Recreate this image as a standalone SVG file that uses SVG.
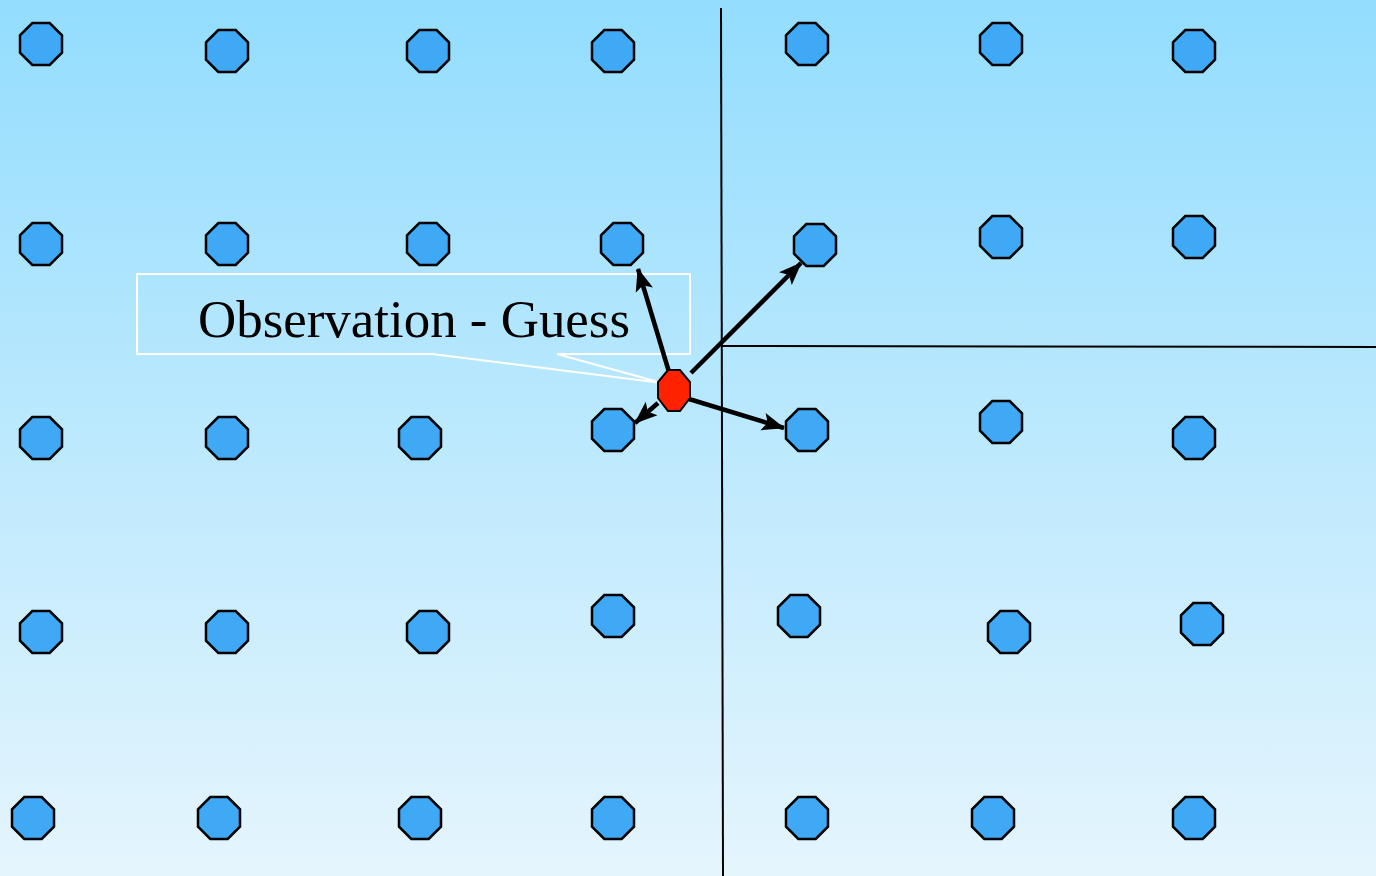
<svg xmlns="http://www.w3.org/2000/svg" xmlns:xlink="http://www.w3.org/1999/xlink" width="1376" height="876" viewBox="0 0 1376 876">
<defs>
<linearGradient id="bg" x1="0" y1="0" x2="0" y2="1">
<stop offset="0" stop-color="#93DDFE"/>
<stop offset="1" stop-color="#E5F5FD"/>
</linearGradient>
<polygon id="oct" points="-8.7,-21 8.7,-21 21,-8.7 21,8.7 8.7,21 -8.7,21 -21,8.7 -21,-8.7"/>
<marker id="ah" markerUnits="userSpaceOnUse" markerWidth="24" markerHeight="20" viewBox="0 0 24 20" refX="22" refY="10" orient="auto">
<path d="M0,1 L23,10 L0,19 L5,10 Z" fill="#000"/>
</marker>
</defs>
<style>
.n use{fill:#3FA9F5;stroke:#000;stroke-width:2.5}
.ln{stroke:#000;stroke-width:2;fill:none}
.ar{stroke:#000;stroke-width:4.5;fill:none;marker-end:url(#ah)}
.lbl{font-family:"Liberation Serif",serif;font-size:53px;fill:#000}
</style>
<rect x="0" y="0" width="1376" height="876" fill="url(#bg)"/>
<g id="grid-lines">
<line class="ln" x1="721" y1="8" x2="723" y2="876"/>
<line class="ln" x1="722" y1="346" x2="1376" y2="347"/>
</g>
<g id="callout">
<path d="M137,274 H690 V354 H557 L662,383 L432,354 H137 Z" fill="none" stroke="#fff" stroke-width="2"/>
<text class="lbl" x="414" y="337" text-anchor="middle" textLength="432" lengthAdjust="spacingAndGlyphs">Observation - Guess</text>
</g>
<g class="n">
<g id="n1-1"><use href="#oct" x="41" y="44"/></g>
<g id="n1-2"><use href="#oct" x="227" y="51"/></g>
<g id="n1-3"><use href="#oct" x="428" y="51"/></g>
<g id="n1-4"><use href="#oct" x="613" y="51"/></g>
<g id="n1-5"><use href="#oct" x="807" y="44"/></g>
<g id="n1-6"><use href="#oct" x="1001" y="44"/></g>
<g id="n1-7"><use href="#oct" x="1194" y="51"/></g>
<g id="n2-1"><use href="#oct" x="41" y="244"/></g>
<g id="n2-2"><use href="#oct" x="227" y="244"/></g>
<g id="n2-3"><use href="#oct" x="428" y="244"/></g>
<g id="n2-4"><use href="#oct" x="622" y="244"/></g>
<g id="n2-5"><use href="#oct" x="815" y="245"/></g>
<g id="n2-6"><use href="#oct" x="1001" y="237"/></g>
<g id="n2-7"><use href="#oct" x="1194" y="237"/></g>
<g id="n3-1"><use href="#oct" x="41" y="438"/></g>
<g id="n3-2"><use href="#oct" x="227" y="438"/></g>
<g id="n3-3"><use href="#oct" x="420" y="438"/></g>
<g id="n3-4"><use href="#oct" x="613" y="430"/></g>
<g id="n3-5"><use href="#oct" x="807" y="430"/></g>
<g id="n3-6"><use href="#oct" x="1001" y="422"/></g>
<g id="n3-7"><use href="#oct" x="1194" y="438"/></g>
<g id="n4-1"><use href="#oct" x="41" y="632"/></g>
<g id="n4-2"><use href="#oct" x="227" y="632"/></g>
<g id="n4-3"><use href="#oct" x="428" y="632"/></g>
<g id="n4-4"><use href="#oct" x="613" y="616"/></g>
<g id="n4-5"><use href="#oct" x="799" y="616"/></g>
<g id="n4-6"><use href="#oct" x="1009" y="632"/></g>
<g id="n4-7"><use href="#oct" x="1202" y="624"/></g>
<g id="n5-1"><use href="#oct" x="33" y="818"/></g>
<g id="n5-2"><use href="#oct" x="219" y="818"/></g>
<g id="n5-3"><use href="#oct" x="420" y="818"/></g>
<g id="n5-4"><use href="#oct" x="613" y="818"/></g>
<g id="n5-5"><use href="#oct" x="807" y="818"/></g>
<g id="n5-6"><use href="#oct" x="993" y="818"/></g>
<g id="n5-7"><use href="#oct" x="1194" y="818"/></g>
</g>
<g id="connectors">
<line class="ar" x1="669" y1="372" x2="638" y2="269"/>
<line class="ar" x1="691" y1="373" x2="801" y2="263"/>
<line class="ar" x1="658" y1="403" x2="635" y2="423"/>
<line class="ar" x1="689" y1="399" x2="784" y2="428"/>
</g>
<g id="observation">
<polygon points="668,370 680,370 690,382 690,398 680,411 668,411 658,398 658,382" fill="#FF2200" stroke="#000" stroke-width="2"/>
</g>
</svg>
